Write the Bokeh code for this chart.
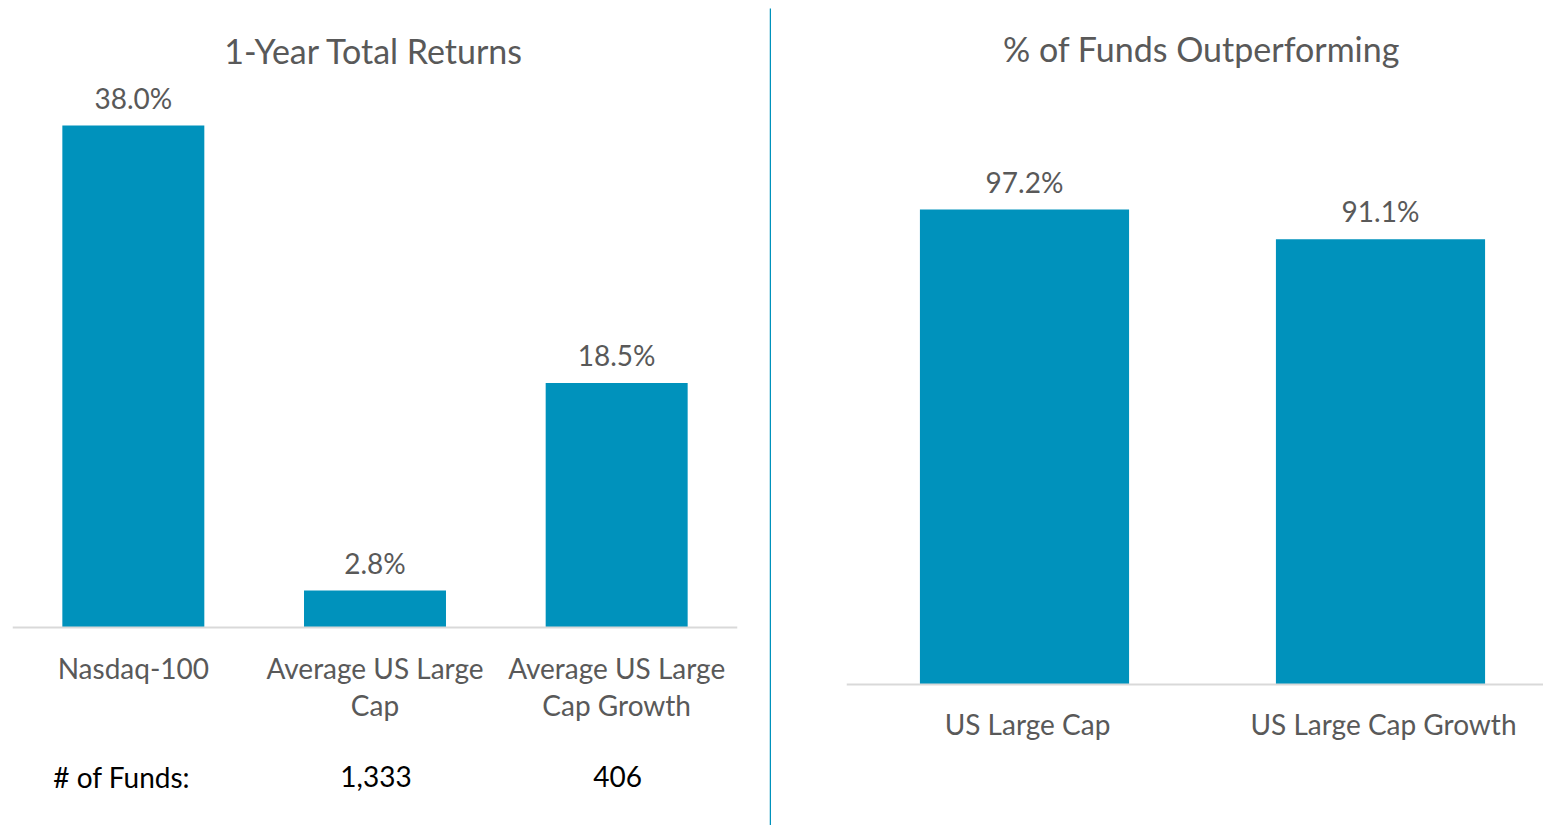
from bokeh.plotting import figure
from bokeh.layouts import row
from bokeh.models import Span, Label, ColumnDataSource, Range1d
from bokeh.core.properties import value
from bokeh.embed import file_html
from bokeh.resources import INLINE
import numpy as np

# ---- data ----
left_title = "1-Year Total Returns"
left_categories = ["Nasdaq-100", "Average US Large\nCap", "Average US Large\nCap Growth"]
left_values = [38.0, 2.8, 18.5]
fund_counts_label = "# of Funds:"
fund_counts = ["", "1,333", "406"]

right_title = "% of Funds Outperforming"
right_categories = ["US Large Cap", "US Large Cap Growth"]
right_values = [97.2, 91.1]

# ---- style ----
BAR = "#0092BC"
GRAY = "#595959"
BASE = "#D9D9D9"
FONT = "Lato"
LBL = "28px"
TTL = "34px"
H = 825

def base_fig(width, xr, yr, bl, br):
    p = figure(width=width, height=H, x_range=xr, y_range=yr,
               x_axis_location=None, y_axis_location=None,
               toolbar_location=None, output_backend="svg",
               min_border_left=bl, min_border_right=br,
               min_border_top=0, min_border_bottom=0)
    p.grid.visible = False
    p.outline_line_color = None
    p.background_fill_color = "white"
    p.border_fill_color = "white"
    return p

# ---------- left panel ----------
L_BASE_PX = 627          # baseline offset from top of figure
L_SCALE = 502 / 38.0     # px per unit
nL = len(left_values)
yrL = Range1d(-(H - L_BASE_PX) / L_SCALE, L_BASE_PX / L_SCALE)
pL = base_fig(769, Range1d(0, nL), yrL, 12, 32)
xsL = np.arange(nL) + 0.5
srcL = ColumnDataSource(dict(x=xsL, top=left_values,
                             lab=[f"{v:.1f}%" for v in left_values]))
pL.vbar(x="x", top="top", bottom=0, width=0.5875, source=srcL,
        fill_color=BAR, line_color=None)
pL.add_layout(Span(location=0, dimension="width", line_color=BASE, line_width=2))
pL.text(x="x", y="top", text="lab", source=srcL, y_offset=-28,
        text_align="center", text_baseline="middle",
        text_font=value(FONT), text_font_size=LBL, text_color=GRAY)
for i, cat in enumerate(left_categories):
    for j, line in enumerate(cat.split("\n")):
        pL.text(x=[xsL[i]], y=[0], text=[line], y_offset=40 + 37 * j,
                text_align="center", text_baseline="middle",
                text_font=value(FONT), text_font_size=LBL, text_color=GRAY)
pL.text(x=[xsL[0]], y=[0], text=[fund_counts_label], x_offset=-80, y_offset=149,
        text_align="left", text_baseline="middle",
        text_font=value(FONT), text_font_size=LBL, text_color="black")
for i, c in enumerate(fund_counts):
    if c:
        pL.text(x=[xsL[i]], y=[0], text=[c], x_offset=1, y_offset=149,
                text_align="center", text_baseline="middle",
                text_font=value(FONT), text_font_size=LBL, text_color="black")
pL.add_layout(Label(x=361.5, y=H - 50, x_units="screen", y_units="screen",
                    text=left_title, text_align="center", text_baseline="middle",
                    text_font=FONT, text_font_size=TTL, text_color=GRAY))

# ---------- divider (starts 8px below the top) ----------
pD = figure(width=2, height=H, x_range=Range1d(0, 1), y_range=Range1d(0, H),
            x_axis_location=None, y_axis_location=None,
            toolbar_location=None, output_backend="svg", min_border=0,
            background_fill_color="white", border_fill_color="white")
pD.outline_line_color = None
pD.grid.visible = False
pD.quad(left=0, right=1, bottom=0, top=H - 8, fill_color=BAR, line_color=None)

# ---------- right panel ----------
R_BASE_PX = 684
R_SCALE = 475 / 97.2
nR = len(right_values)
yrR = Range1d(-(H - R_BASE_PX) / R_SCALE, R_BASE_PX / R_SCALE)
pR = base_fig(772, Range1d(0, 697 / 356), yrR, 75, 0)
xsR = np.arange(nR) + 0.5
srcR = ColumnDataSource(dict(x=xsR, top=right_values,
                             lab=[f"{v:.1f}%" for v in right_values]))
pR.vbar(x="x", top="top", bottom=0, width=0.5875, source=srcR,
        fill_color=BAR, line_color=None)
pR.add_layout(Span(location=0, dimension="width", line_color=BASE, line_width=2))
pR.text(x="x", y="top", text="lab", source=srcR, y_offset=-28,
        text_align="center", text_baseline="middle",
        text_font=value(FONT), text_font_size=LBL, text_color=GRAY)
for i, cat in enumerate(right_categories):
    pR.text(x=[xsR[i]], y=[0], text=[cat], x_offset=3, y_offset=39,
            text_align="center", text_baseline="middle",
            text_font=value(FONT), text_font_size=LBL, text_color=GRAY)
pR.add_layout(Label(x=355, y=H - 48, x_units="screen", y_units="screen",
                    text=right_title, text_align="center", text_baseline="middle",
                    text_font=FONT, text_font_size=TTL, text_color=GRAY))

layout = row(pL, pD, pR)
open("out.html", "w").write(file_html(layout, INLINE))
